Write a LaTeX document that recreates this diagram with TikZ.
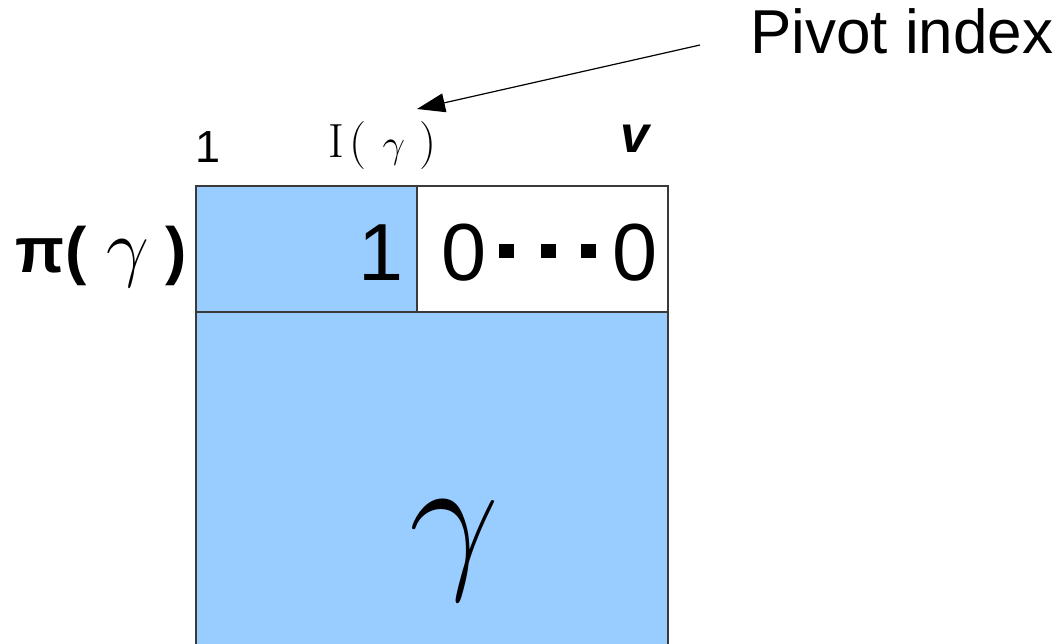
\RequirePackage{fix-cm}
\documentclass[tikz,border=0pt]{standalone}
\usepackage{fontspec}
\setsansfont{Liberation Sans}
\usetikzlibrary{arrows.meta}
\definecolor{boxblue}{HTML}{99CCFF}
\definecolor{edge}{HTML}{3A3A3A}
\tikzset{
  cell/.style={draw=edge, line width=1.2pt},
  lbl/.style={inner sep=0pt, outer sep=0pt},
  pointer/.style={line width=1.2pt, -{Triangle[length=28pt,width=19pt]}},
}
\newcommand{\fs}[1]{\fontsize{#1}{#1}\selectfont}
\newcommand{\sq}{\raisebox{22pt}{\rule{15pt}{14pt}}}
\begin{document}
\begin{tikzpicture}[x=1pt,y=-1pt]
\useasboundingbox (0,0) rectangle (1059,643);
\clip (0,0) rectangle (1059,643);
% cells
\filldraw[cell, fill=boxblue] (196,312) rectangle (668,680);
\filldraw[cell, fill=boxblue] (196,186) rectangle (417,312);
\filldraw[cell, fill=white] (417,186) rectangle (668,312);
% labels
\node[lbl, anchor=base west] (pivot) at (750,53) {\sffamily\fs{62}Pivot index};
\node[lbl, anchor=base west] (one) at (195,162) {\sffamily\fs{45}1};
\node[lbl, anchor=base west] (Ig) at (328,157) {\fs{48}I\hspace{6pt}(\hspace{16pt}{\fs{40}$\gamma$}\hspace{14pt})};
\node[lbl, anchor=base west] (v) at (620,152) {\sffamily\bfseries\itshape\fs{52}v};
\node[lbl, anchor=base west] (pi) at (16,272) {\sffamily\bfseries\fs{64}π(\hspace{20pt}{\normalfont\fs{76}$\gamma$}\hspace{16pt})};
\node[lbl, anchor=base east] (pivone) at (404,280) {\sffamily\fs{81}1};
\node[lbl, anchor=base west] (zeros) at (441,280) {\sffamily\fs{81}0\hspace{13pt}\sq\hspace{27pt}\sq\hspace{25pt}\sq\hspace{16pt}0};
\node[lbl] (gamma) at (454,551) {\fs{160}$\gamma$};
% pointer
\coordinate (from) at (700,45);
\coordinate (to) at (417,109);
\draw[pointer] (from) -- (to);
\end{tikzpicture}
\end{document}
